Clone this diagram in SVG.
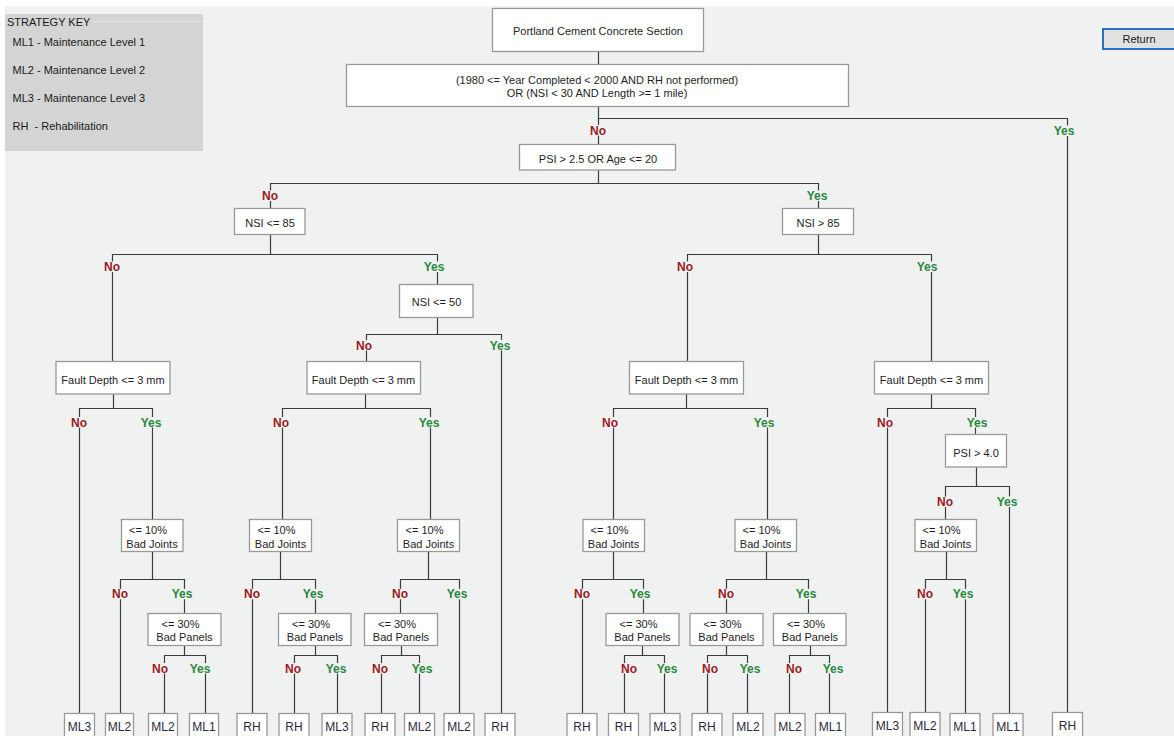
<svg xmlns="http://www.w3.org/2000/svg" width="1174" height="736" viewBox="0 0 1174 736">
<style>
.win{fill:#f0f1f1}
.node rect{fill:#ffffff;stroke:#999999;stroke-width:1.3}
.node text{font-family:"Liberation Sans",Arial,sans-serif;font-size:11px;fill:#1e1e1e;text-anchor:middle}
.leaf rect{fill:#ffffff;stroke:#999999;stroke-width:1.3}
.leaf text{font-family:"Liberation Sans",Arial,sans-serif;font-size:12px;fill:#2a2a3a;text-anchor:middle}
.conn path{stroke:#3c3c3c;stroke-width:1.2;fill:none}
.lbl rect{fill:#f0f1f1}
.lbl text{font-family:"Liberation Sans",Arial,sans-serif;font-size:12px;font-weight:bold;text-anchor:middle}
.no{fill:#9b1b24}
.yes{fill:#2a8a3c}
.key text{font-family:"Liberation Sans",Arial,sans-serif;font-size:11px;fill:#1a1a1a;white-space:pre}
</style>
<rect x="0" y="0" width="1174" height="736" fill="#ffffff"/>
<rect class="win" x="5" y="6" width="1169" height="730"/>

<g id="strategy-key" class="key">
<rect x="5" y="14" width="198" height="137" fill="#d4d4d4"/>
<line x1="93" y1="21.5" x2="203" y2="21.5" stroke="#e4e4e4" stroke-width="1"/>
<text x="7" y="26">STRATEGY KEY</text>
<text x="12.5" y="46">ML1 - Maintenance Level 1</text>
<text x="12.5" y="74">ML2 - Maintenance Level 2</text>
<text x="12.5" y="102">ML3 - Maintenance Level 3</text>
<text x="12.5" y="130" xml:space="preserve">RH  - Rehabilitation</text>
</g>

<g id="return-button">
<rect x="1103" y="29" width="72" height="20" fill="#e1e1e1" stroke="#2b6fc4" stroke-width="2"/>
<text x="1139" y="43.3" font-family="Liberation Sans, Arial, sans-serif" font-size="11px" fill="#1a1a1a" text-anchor="middle">Return</text>
</g>

<g id="connectors" class="conn">
<path d="M598.5 51.5V64.5M598.5 106.5V144.5M598.5 118.5H1067.5V713"/>
<path d="M598.5 170V183.5M270.5 208.5V183.5H818.5V208.5"/>
<path d="M270.5 234.5V254.5M112.5 361.5V254.5H437.5V284.5"/>
<path d="M818.5 234.5V254.5M687.5 361.5V254.5H931.5V361.5"/>
<path d="M437.5 317.5V334.5M366.5 361.5V334.5H501.5V713"/>
<path d="M113.5 394V408.5M79.5 713V408.5H152.5V519.5"/>
<path d="M365.5 394V408.5M282.5 519.5V408.5H430.5V519.5"/>
<path d="M686.5 394V408.5M613.5 519.5V408.5H767.5V519.5"/>
<path d="M931.5 394V408.5M887.5 713V408.5H975.5V434.5"/>
<path d="M976.5 467V486.5M945.5 519.5V486.5H1009.5V713"/>
<path d="M152.5 551.5V579.5M120.5 713V579.5H184.5V613.5"/>
<path d="M280.5 551.5V579.5M252.5 713V579.5H315.5V613.5"/>
<path d="M428.5 551.5V579.5M400.5 613.5V579.5H459.5V713"/>
<path d="M613.5 551.5V579.5M582.5 713V579.5H643.5V613.5"/>
<path d="M766.5 551.5V579.5M726.5 613.5V579.5H808.5V613.5"/>
<path d="M946.5 551.5V579.5M925.5 713V579.5H965.5V713"/>
<path d="M184.5 645.5V655.5M164.5 713V655.5H205.5V713"/>
<path d="M315.5 645.5V655.5M294.5 713V655.5H337.5V713"/>
<path d="M401.5 645.5V655.5M381.5 713V655.5H419.5V713"/>
<path d="M642.5 645.5V655.5M624.5 713V655.5H664.5V713"/>
<path d="M726.5 645.5V655.5M707.5 713V655.5H747.5V713"/>
<path d="M810.5 645.5V655.5M789.5 713V655.5H829.5V713"/>
</g>

<g id="branch-labels" class="lbl">
<rect x="589" y="125" width="18" height="10.5"/><text class="no" x="598" y="134.5">No</text>
<rect x="1054" y="125.5" width="23" height="10.5"/><text class="yes" x="1064" y="135">Yes</text>
<rect x="261" y="190.5" width="18" height="10.5"/><text class="no" x="270" y="200">No</text>
<rect x="806" y="190.5" width="23" height="10.5"/><text class="yes" x="817" y="200">Yes</text>

<rect x="103" y="261.5" width="18" height="10.5"/><text class="no" x="112" y="271">No</text>
<rect x="423" y="261.5" width="23" height="10.5"/><text class="yes" x="434" y="271">Yes</text>
<rect x="676" y="261.5" width="18" height="10.5"/><text class="no" x="685" y="271">No</text>
<rect x="915" y="261.5" width="23" height="10.5"/><text class="yes" x="927" y="271">Yes</text>

<rect x="355" y="340" width="18" height="10.5"/><text class="no" x="364" y="349.5">No</text>
<rect x="489" y="340" width="23" height="10.5"/><text class="yes" x="500" y="349.5">Yes</text>

<rect x="70" y="417" width="18" height="10.5"/><text class="no" x="79" y="426.5">No</text>
<rect x="140" y="417" width="23" height="10.5"/><text class="yes" x="151" y="426.5">Yes</text>
<rect x="272" y="417" width="18" height="10.5"/><text class="no" x="281" y="426.5">No</text>
<rect x="418" y="417" width="23" height="10.5"/><text class="yes" x="429" y="426.5">Yes</text>
<rect x="601" y="417" width="18" height="10.5"/><text class="no" x="610" y="426.5">No</text>
<rect x="752" y="417" width="23" height="10.5"/><text class="yes" x="764" y="426.5">Yes</text>
<rect x="876" y="417" width="18" height="10.5"/><text class="no" x="885" y="426.5">No</text>
<rect x="966" y="417" width="23" height="10.5"/><text class="yes" x="977" y="426.5">Yes</text>

<rect x="936" y="496.5" width="18" height="10.5"/><text class="no" x="945" y="506">No</text>
<rect x="996" y="496.5" width="23" height="10.5"/><text class="yes" x="1007" y="506">Yes</text>

<rect x="111" y="588.8" width="18" height="10.5"/><text class="no" x="120" y="598.3">No</text>
<rect x="171" y="588.8" width="23" height="10.5"/><text class="yes" x="182" y="598.3">Yes</text>
<rect x="243" y="588.8" width="18" height="10.5"/><text class="no" x="252" y="598.3">No</text>
<rect x="302" y="588.8" width="23" height="10.5"/><text class="yes" x="313" y="598.3">Yes</text>
<rect x="391" y="588.8" width="18" height="10.5"/><text class="no" x="400" y="598.3">No</text>
<rect x="446" y="588.8" width="23" height="10.5"/><text class="yes" x="457" y="598.3">Yes</text>
<rect x="573" y="588.8" width="18" height="10.5"/><text class="no" x="582" y="598.3">No</text>
<rect x="629" y="588.8" width="23" height="10.5"/><text class="yes" x="640" y="598.3">Yes</text>
<rect x="717" y="588.8" width="18" height="10.5"/><text class="no" x="726" y="598.3">No</text>
<rect x="795" y="588.8" width="23" height="10.5"/><text class="yes" x="806" y="598.3">Yes</text>
<rect x="916" y="588.8" width="18" height="10.5"/><text class="no" x="925" y="598.3">No</text>
<rect x="952" y="588.8" width="23" height="10.5"/><text class="yes" x="963" y="598.3">Yes</text>

<rect x="151" y="663" width="18" height="10.5"/><text class="no" x="160" y="672.5">No</text>
<rect x="189" y="663" width="23" height="10.5"/><text class="yes" x="200" y="672.5">Yes</text>
<rect x="284" y="663" width="18" height="10.5"/><text class="no" x="293" y="672.5">No</text>
<rect x="325" y="663" width="23" height="10.5"/><text class="yes" x="336" y="672.5">Yes</text>
<rect x="371" y="663" width="18" height="10.5"/><text class="no" x="380" y="672.5">No</text>
<rect x="411" y="663" width="23" height="10.5"/><text class="yes" x="422" y="672.5">Yes</text>
<rect x="620" y="663" width="18" height="10.5"/><text class="no" x="629" y="672.5">No</text>
<rect x="656" y="663" width="23" height="10.5"/><text class="yes" x="667" y="672.5">Yes</text>
<rect x="701" y="663" width="18" height="10.5"/><text class="no" x="710" y="672.5">No</text>
<rect x="739" y="663" width="23" height="10.5"/><text class="yes" x="750" y="672.5">Yes</text>
<rect x="785" y="663" width="18" height="10.5"/><text class="no" x="794" y="672.5">No</text>
<rect x="822" y="663" width="23" height="10.5"/><text class="yes" x="833" y="672.5">Yes</text>
</g>

<g id="n-root" class="node"><rect x="492.5" y="8.5" width="211" height="43"/><text x="598" y="34.5">Portland Cement Concrete Section</text></g>
<g id="n-eligibility" class="node"><rect x="346.5" y="64.5" width="502" height="42"/><text x="597" y="83.5">(1980 &lt;= Year Completed &lt; 2000 AND RH not performed)</text><text x="597" y="97">OR (NSI &lt; 30 AND Length &gt;= 1 mile)</text></g>
<g id="n-psi" class="node"><rect x="519.5" y="144.5" width="156" height="25.5"/><text x="598" y="162.5">PSI &gt; 2.5 OR Age &lt;= 20</text></g>
<g id="n-nsi85-le" class="node"><rect x="234.5" y="208.5" width="70.5" height="26"/><text x="270" y="227.3">NSI &lt;= 85</text></g>
<g id="n-nsi85-gt" class="node"><rect x="782.5" y="208.5" width="71" height="26"/><text x="818" y="227.3">NSI &gt; 85</text></g>
<g id="n-nsi50" class="node"><rect x="399.5" y="284.5" width="73.5" height="33"/><text x="436.5" y="306">NSI &lt;= 50</text></g>
<g id="n-fd1" class="node"><rect x="56" y="361.5" width="114" height="32.5"/><text x="113" y="384">Fault Depth &lt;= 3 mm</text></g>
<g id="n-fd2" class="node"><rect x="307" y="361.5" width="113.5" height="32.5"/><text x="363.5" y="384">Fault Depth &lt;= 3 mm</text></g>
<g id="n-fd3" class="node"><rect x="629.5" y="361.5" width="114" height="32.5"/><text x="686.5" y="384">Fault Depth &lt;= 3 mm</text></g>
<g id="n-fd4" class="node"><rect x="874.5" y="361.5" width="114" height="32.5"/><text x="931.5" y="384">Fault Depth &lt;= 3 mm</text></g>
<g id="n-psi4" class="node"><rect x="945.5" y="434.5" width="61" height="32.5"/><text x="976" y="456.5">PSI &gt; 4.0</text></g>

<g id="n-bj1" class="node"><rect x="121.5" y="519.5" width="61.5" height="32"/><text x="148" y="534">&lt;= 10%</text><text x="152" y="547.5">Bad Joints</text></g>
<g id="n-bj2" class="node"><rect x="249.5" y="519.5" width="62" height="32"/><text x="276.5" y="534">&lt;= 10%</text><text x="280.5" y="547.5">Bad Joints</text></g>
<g id="n-bj3" class="node"><rect x="397.5" y="519.5" width="62" height="32"/><text x="424.5" y="534">&lt;= 10%</text><text x="428.5" y="547.5">Bad Joints</text></g>
<g id="n-bj4" class="node"><rect x="583" y="519.5" width="61.5" height="32"/><text x="609.5" y="534">&lt;= 10%</text><text x="613.5" y="547.5">Bad Joints</text></g>
<g id="n-bj5" class="node"><rect x="735" y="519.5" width="61.5" height="32"/><text x="761.5" y="534">&lt;= 10%</text><text x="765.5" y="547.5">Bad Joints</text></g>
<g id="n-bj6" class="node"><rect x="915" y="519.5" width="61.5" height="32"/><text x="941.5" y="534">&lt;= 10%</text><text x="945.5" y="547.5">Bad Joints</text></g>

<g id="n-bp1" class="node"><rect x="148" y="613.5" width="73" height="32"/><text x="180.5" y="627.7">&lt;= 30%</text><text x="184.5" y="641">Bad Panels</text></g>
<g id="n-bp2" class="node"><rect x="278.5" y="613.5" width="72.5" height="32"/><text x="311" y="627.7">&lt;= 30%</text><text x="315" y="641">Bad Panels</text></g>
<g id="n-bp3" class="node"><rect x="364.5" y="613.5" width="73" height="32"/><text x="397" y="627.7">&lt;= 30%</text><text x="401" y="641">Bad Panels</text></g>
<g id="n-bp4" class="node"><rect x="606" y="613.5" width="73" height="32"/><text x="638.5" y="627.7">&lt;= 30%</text><text x="642.5" y="641">Bad Panels</text></g>
<g id="n-bp5" class="node"><rect x="690" y="613.5" width="73" height="32"/><text x="722.5" y="627.7">&lt;= 30%</text><text x="726.5" y="641">Bad Panels</text></g>
<g id="n-bp6" class="node"><rect x="773.5" y="613.5" width="72.5" height="32"/><text x="806" y="627.7">&lt;= 30%</text><text x="810" y="641">Bad Panels</text></g>

<g id="leaf-01" class="leaf"><rect x="64.5" y="713.5" width="30" height="26"/><text x="79.5" y="730.5">ML3</text></g>
<g id="leaf-02" class="leaf"><rect x="105.5" y="713.5" width="28" height="26"/><text x="119.5" y="730.5">ML2</text></g>
<g id="leaf-03" class="leaf"><rect x="148.5" y="713.5" width="29" height="26"/><text x="163" y="730.5">ML2</text></g>
<g id="leaf-04" class="leaf"><rect x="189.5" y="713.5" width="29" height="26"/><text x="204" y="730.5">ML1</text></g>
<g id="leaf-05" class="leaf"><rect x="237" y="713.5" width="30" height="26"/><text x="252" y="730.5">RH</text></g>
<g id="leaf-06" class="leaf"><rect x="279" y="713.5" width="30" height="26"/><text x="294" y="730.5">RH</text></g>
<g id="leaf-07" class="leaf"><rect x="322" y="713.5" width="30" height="26"/><text x="337" y="730.5">ML3</text></g>
<g id="leaf-08" class="leaf"><rect x="365" y="713.5" width="30" height="26"/><text x="380" y="730.5">RH</text></g>
<g id="leaf-09" class="leaf"><rect x="404.5" y="713.5" width="30" height="26"/><text x="419.5" y="730.5">ML2</text></g>
<g id="leaf-10" class="leaf"><rect x="444" y="713.5" width="30" height="26"/><text x="459" y="730.5">ML2</text></g>
<g id="leaf-11" class="leaf"><rect x="485" y="713.5" width="30" height="26"/><text x="500" y="730.5">RH</text></g>
<g id="leaf-12" class="leaf"><rect x="567" y="713.5" width="30" height="26"/><text x="582" y="730.5">RH</text></g>
<g id="leaf-13" class="leaf"><rect x="608.5" y="713.5" width="30" height="26"/><text x="623.5" y="730.5">RH</text></g>
<g id="leaf-14" class="leaf"><rect x="650" y="713.5" width="30" height="26"/><text x="665" y="730.5">ML3</text></g>
<g id="leaf-15" class="leaf"><rect x="692" y="713.5" width="30" height="26"/><text x="707" y="730.5">RH</text></g>
<g id="leaf-16" class="leaf"><rect x="733" y="713.5" width="30" height="26"/><text x="748" y="730.5">ML2</text></g>
<g id="leaf-17" class="leaf"><rect x="775" y="713.5" width="30" height="26"/><text x="790" y="730.5">ML2</text></g>
<g id="leaf-18" class="leaf"><rect x="815.5" y="713.5" width="30" height="26"/><text x="830.5" y="730.5">ML1</text></g>
<g id="leaf-19" class="leaf"><rect x="872.5" y="712.5" width="30" height="26"/><text x="887.5" y="729.5">ML3</text></g>
<g id="leaf-20" class="leaf"><rect x="910" y="712.5" width="30" height="26"/><text x="925" y="729.5">ML2</text></g>
<g id="leaf-21" class="leaf"><rect x="950" y="713.5" width="30" height="26"/><text x="965" y="730.5">ML1</text></g>
<g id="leaf-22" class="leaf"><rect x="993" y="713.5" width="30" height="26"/><text x="1008" y="730.5">ML1</text></g>
<g id="leaf-23" class="leaf"><rect x="1052.5" y="712.5" width="30" height="26"/><text x="1067.5" y="729.5">RH</text></g>
</svg>
